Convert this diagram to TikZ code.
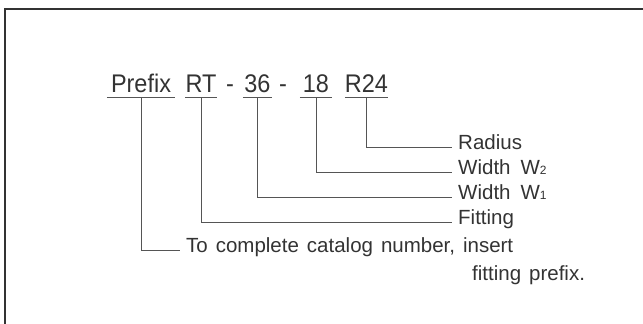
\documentclass[tikz,border=0pt]{standalone}
\usepackage{fontspec}
\setmainfont{Liberation Sans}
\newfontfamily\partfont[FakeStretch=0.92]{Liberation Sans}
\newfontfamily\labfont[WordSpace=1.4]{Liberation Sans}
\usepackage{tikz}
\usetikzlibrary{positioning}

\definecolor{inkgray}{HTML}{333333}
\definecolor{linegray}{HTML}{555555}
\newcommand{\wdigit}[1]{{\fontsize{12pt}{12pt}\selectfont #1}}

\begin{document}
\begin{tikzpicture}[
  x=1pt, y=-1pt,
  part/.style={
    font=\partfont\fontsize{25.5pt}{25.5pt}\selectfont, text=inkgray,
    anchor=base, text depth=0pt, inner xsep=0pt, inner ysep=5pt,
    minimum width=#1
  },
  sepmark/.style={font=\partfont\fontsize{25.5pt}{25.5pt}\selectfont, text=inkgray, anchor=base, inner sep=0pt},
  lab/.style={
    font=\labfont\fontsize{20.5pt}{20.5pt}\selectfont, text=inkgray,
    anchor=mid west, inner xsep=6pt, inner ysep=0pt
  },
  uline/.style={draw=linegray, line width=1.1pt},
  lead/.style={draw=linegray, line width=1pt}
]
\useasboundingbox (0,0) rectangle (643,324);

% ── Frame ──────────────────────────────────────────────────────────────────
\draw[black!80, line width=2.6pt] (5,324) -- (5,9) -- (643,9);

% ── Catalog number parts ───────────────────────────────────────────────────
\node[part=68pt] (prefix) at (141,92.5)   {Prefix};
\node[part=29pt] (rt)     at (201,92.5)   {RT};
\node[sepmark]   (d1)     at (230,92.5)   {-};
\node[part=29pt] (w1)     at (257.5,92.5) {36};
\node[sepmark]   (d2)     at (283,92.5)   {-};
\node[part=32pt] (w2)     at (316,92.5)   {18};
\node[part=35pt] (rad)    at (366.5,92.5) {R24};

% ── Underlines ─────────────────────────────────────────────────────────────
\foreach \p in {prefix,rt,w1,w2,rad}
  \draw[uline] (\p.south west) -- (\p.south east);

% ── Labels ─────────────────────────────────────────────────────────────────
\node[lab] (lrad)  at (452,147) {Radius};
\node[lab] (lw2)   at (452,172) {Width\ \kern2pt W\wdigit{2}};
\node[lab] (lw1)   at (452,197) {Width\ \kern2pt W\wdigit{1}};
\node[lab] (lfit)  at (452,222) {Fitting};
\node[lab] (lpre)  at (180,250) {To complete catalog number, insert};
\node[lab, anchor=base west, inner xsep=0pt] (lpre2) at (472,280) {fitting prefix.};

% ── Leaders ────────────────────────────────────────────────────────────────
\draw[lead] (rad.south)    |- (lrad.mid west);
\draw[lead] (w2.south)     |- (lw2.mid west);
\draw[lead] (w1.south)     |- (lw1.mid west);
\draw[lead] (rt.south)     |- (lfit.mid west);
\draw[lead] (prefix.south) |- (lpre.mid west);

\end{tikzpicture}
\end{document}
